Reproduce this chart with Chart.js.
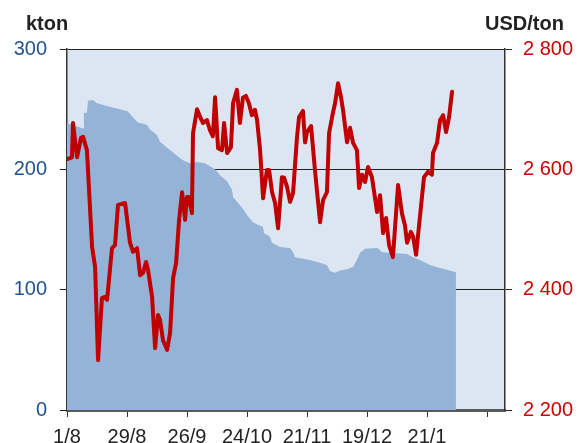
<!DOCTYPE html>
<html>
<head>
<meta charset="utf-8">
<script src="https://cdn.jsdelivr.net/npm/chart.js@4/dist/chart.umd.min.js"></script>
<style>
  html, body { margin: 0; padding: 0; background: #fff; }
  #wrap { width: 579px; height: 443px; position: relative; }
</style>
</head>
<body>
<div id="wrap"><canvas id="chart"></canvas></div>
<script>
// dagar räknade från 1/8
const xTickDays = [0, 28, 56, 84, 112, 140, 168, 196];
const xTickLabels = ['1/8', '29/8', '26/9', '24/10', '21/11', '19/12', '21/1', ''];
const leftTicks = [0, 100, 200, 300];
const rightTicks = [2200, 2400, 2600, 2800];
const rightTickLabels = ['2 200', '2 400', '2 600', '2 800'];

// lager, kton
const stockDays = [0, 7.5, 7.9, 9.3, 9.8, 12.1, 14, 20, 24.7, 28.5, 30.8, 33.1, 37.3, 38.7, 42, 43.4,
  46.7, 49.5, 53.7, 57.4, 60.5, 64.4, 69, 71.4, 74.7, 77, 77.5, 81.7, 84, 86.8, 89.1, 91.5, 91.9,
  94.7, 95.7, 99.4, 104, 105.5, 106.4, 113.4, 116.7, 121.3, 122.7, 125, 127.4, 130.7, 133.5,
  135.3, 136.7, 139, 145, 147, 152, 158.7, 161.5, 164.7, 169.4, 174, 178.7, 181, 181.5];
const stockKton = [238.5, 234, 247, 247, 257, 257.6, 255, 252, 250, 248, 243, 239, 237, 233, 228.5, 223,
  218, 214, 208, 205, 206, 205, 200, 195, 190, 183, 177, 168, 162, 156, 154, 152, 147,
  144, 139, 135.5, 134.6, 131, 127, 124.7, 123, 120.5, 115.5, 114, 116, 117, 119,
  124.7, 130.5, 134, 134.6, 131, 130.5, 129.6, 127, 124.7, 120.5, 118, 116, 114.7, 114.7];

// pris, USD/ton
const priceDays = [0, 2.3, 2.8, 4.7, 6.5, 7.5, 9.3, 11.7, 13.1, 14.5, 16.3, 17.7, 18.7, 21, 22.4, 23.8,
  27.1, 29.4, 30.8, 32.7, 34.1, 35.5, 36.9, 37.8, 39.7, 41.1, 42.5, 43.4, 44.8, 46.7, 48.1, 49.5,
  50.9, 52.3, 53.7, 55.1, 56, 56.9, 58.3, 58.8, 60.7, 62.1, 63.5, 65.3, 66.7, 68.1, 69.1, 70.5,
  72.3, 73.3, 74.7, 76.5, 77.5, 79.3, 80.7, 82.1, 83.5, 84.9, 86.3, 87.7, 88.7, 90.1, 91.5, 93.3,
  94.3, 95.7, 97.1, 98.5, 100.3, 101.3, 102.7, 104.1, 105.5, 107.3, 108.3, 110.1, 111.1, 112,
  113.9, 115.7, 118.1, 119.5, 121.3, 122.3, 124.1, 125.1, 126.5, 127.9, 128.8, 130.7, 132.1,
  133.5, 135.3, 136.3, 137.7, 139.1, 140.5, 142.3, 144.7, 146.1, 147.5, 148.9, 150.3, 152.1,
  154.5, 156.3, 157.7, 158.7, 160.5, 161.5, 162.9, 164.7, 166.6, 168.5, 170.3, 170.8, 172.7,
  174.1, 175.5, 176.9, 178.3, 179.7];
const priceUsd = [2617, 2620, 2677, 2620, 2652, 2654, 2632, 2471, 2438, 2283, 2386, 2388, 2383, 2469, 2474, 2541,
  2544, 2478, 2463, 2469, 2424, 2428, 2446, 2433, 2388, 2303, 2358, 2350, 2316, 2300, 2328, 2419,
  2444, 2516, 2562, 2516, 2554, 2554, 2527, 2660, 2700, 2687, 2677, 2682, 2665, 2655, 2720, 2635,
  2632, 2677, 2627, 2637, 2710, 2732, 2677, 2719, 2722, 2710, 2690, 2699, 2682, 2632, 2552, 2599,
  2599, 2562, 2544, 2502, 2587, 2586, 2571, 2546, 2561, 2652, 2687, 2697, 2645, 2662,
  2672, 2599, 2512, 2549, 2562, 2660, 2694, 2710, 2743, 2719, 2699, 2645, 2669,
  2644, 2632, 2569, 2591, 2579, 2604, 2587, 2529, 2557, 2494, 2519, 2474, 2454,
  2574, 2527, 2507, 2478, 2496, 2488, 2458, 2521, 2587, 2596, 2591, 2627, 2644,
  2682, 2690, 2662, 2687, 2729];

const FONT = 'Liberation Sans, Arial, Helvetica, sans-serif';

const bgPlugin = {
  id: 'bg',
  beforeDraw(chart) {
    const a = chart.chartArea, c = chart.ctx;
    c.save();
    c.fillStyle = '#dce6f2';
    c.fillRect(a.left, a.top, a.right - a.left, a.bottom - a.top);
    c.restore();
  },
  afterDraw(chart) {
    const c = chart.ctx;
    c.save();
    c.fillStyle = '#222';
    c.font = 'bold 20px ' + FONT;
    c.textBaseline = 'alphabetic';
    c.textAlign = 'left';
    c.fillText('kton', 26, 29.5);
    c.fillText('USD/ton', 485, 30);
    c.restore();
  }
};

new Chart(document.getElementById('chart'), {
  type: 'line',
  data: {
    datasets: [
      {
        label: 'Pris',
        data: priceDays.map((d, i) => ({ x: d, y: priceUsd[i] })),
        yAxisID: 'y2',
        borderColor: '#c00000',
        borderWidth: 4,
        borderJoinStyle: 'round',
        borderCapStyle: 'round',
        pointRadius: 0,
        tension: 0,
        fill: false,
        order: 0
      },
      {
        label: 'Lager',
        data: stockDays.map((d, i) => ({ x: d, y: stockKton[i] })),
        yAxisID: 'y',
        borderWidth: 0,
        borderColor: 'rgba(0,0,0,0)',
        backgroundColor: '#95b3d7',
        pointRadius: 0,
        tension: 0,
        fill: 'origin',
        order: 1
      }
    ]
  },
  options: {
    responsive: true,
    maintainAspectRatio: false,
    animation: false,
    layout: { padding: { top: 49, left: 0, right: 0, bottom: 0 } },
    plugins: { legend: { display: false }, tooltip: { enabled: false } },
    scales: {
      x: {
        type: 'linear',
        min: 0,
        max: 204.4,
        afterFit: s => { s.height = 33; },
        afterBuildTicks: s => { s.ticks = xTickDays.map(v => ({ value: v })); },
        grid: { drawOnChartArea: false, drawTicks: true, tickLength: 7, color: '#333', lineWidth: 1 },
        border: { display: true, color: '#5a5a5a', width: 3 },
        ticks: {
          autoSkip: false, maxRotation: 0, padding: 8,
          color: '#222', font: { family: FONT, size: 20 },
          callback: (v, i) => xTickLabels[i]
        }
      },
      y: {
        position: 'left',
        min: 0, max: 300,
        afterFit: s => { s.width = 67; },
        afterBuildTicks: s => { s.ticks = leftTicks.map(v => ({ value: v })); },
        grid: { drawOnChartArea: true, drawTicks: true, tickLength: 7, color: '#222', lineWidth: 1 },
        border: { display: true, color: '#333', width: 1.5 },
        ticks: { padding: 13, color: '#24528c', font: { family: FONT, size: 20 } }
      },
      y2: {
        position: 'right',
        min: 2200, max: 2800,
        afterFit: s => { s.width = 74; },
        afterBuildTicks: s => { s.ticks = rightTicks.map(v => ({ value: v })); },
        grid: { drawOnChartArea: false, drawTicks: true, tickLength: 7, color: '#222', lineWidth: 1 },
        border: { display: true, color: '#333', width: 1.5 },
        ticks: {
          padding: 11, color: '#cc0000', font: { family: FONT, size: 20 },
          callback: (v, i) => rightTickLabels[i]
        }
      }
    }
  },
  plugins: [bgPlugin]
});
</script>
</body>
</html>
